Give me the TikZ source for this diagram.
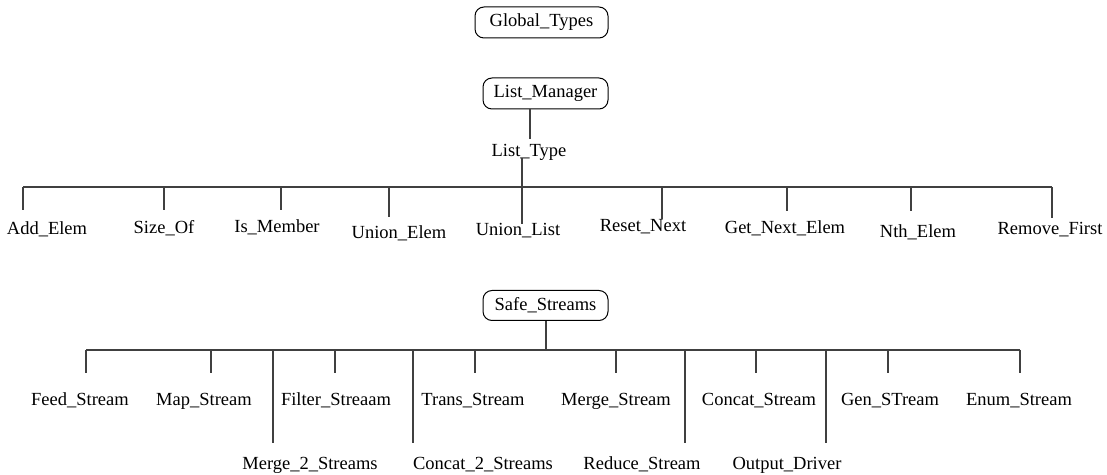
\documentclass[tikz,border=0pt]{standalone}
\usepackage{fontspec}
\setmainfont{Liberation Serif}
\begin{document}
\begin{tikzpicture}[x=0.5pt,y=-0.5pt,
  lbl/.style={inner sep=0pt, anchor=base, font=\fontsize{9.25}{11}\selectfont},
  modbox/.style={draw, line width=0.5pt, rounded corners=4.5pt, inner sep=0pt, minimum height=15.5pt, font=\fontsize{9.25}{11}\selectfont},
  conn/.style={line width=0.55pt, draw=black!75}]
\useasboundingbox (0,0) rectangle (1107,475);

% top modules
\node[modbox, minimum width=66.5pt] (gt) at (541.5,22.5) {Global\_Types};
\node[modbox, minimum width=62.5pt] (lm) at (545.5,93.5) {List\_Manager};
\node[lbl] (lt) at (529,157) {List\_Type};

% List_Manager children
\node[lbl] (ae) at (47,235) {Add\_Elem};
\node[lbl] (so) at (164,234) {Size\_Of};
\node[lbl] (im) at (277,233) {Is\_Member};
\node[lbl] (ue) at (399,239) {Union\_Elem};
\node[lbl] (ul) at (518,236) {Union\_List};
\node[lbl] (rn) at (643,232) {Reset\_Next};
\node[lbl] (gn) at (785,234) {Get\_Next\_Elem};
\node[lbl] (ne) at (918,238) {Nth\_Elem};
\node[lbl] (rf) at (1050,235) {Remove\_First};

\coordinate (lmlow) at (530,139);
\draw[conn] (lm.south -| lmlow) -- (lmlow);
\coordinate (ltlow) at (522,158);
\coordinate (barL) at (23,187);
\coordinate (barR) at (1052,187);
\draw[conn] (barL) -- (barR);
\coordinate (ulb) at (522,224);
\draw[conn] (ltlow) -- (ulb);
\coordinate (aeb) at (23,210);   \draw[conn] (barL) -- (aeb);
\coordinate (sob) at (164,210);  \draw[conn] (sob |- barL) -- (sob);
\coordinate (imb) at (281,210);  \draw[conn] (imb |- barL) -- (imb);
\coordinate (ueb) at (389,217);  \draw[conn] (ueb |- barL) -- (ueb);
\coordinate (rnb) at (662,219);  \draw[conn] (rnb |- barL) -- (rnb);
\coordinate (gnb) at (787,211);  \draw[conn] (gnb |- barL) -- (gnb);
\coordinate (neb) at (911,211);  \draw[conn] (neb |- barL) -- (neb);
\coordinate (rfb) at (1052,218); \draw[conn] (barR) -- (rfb);

% Safe_Streams
\node[modbox, minimum width=62.5pt, minimum height=15pt] (ss) at (545.5,305.5) {Safe\_Streams};
\coordinate (sbarL) at (86,350);
\coordinate (sbarR) at (1020,350);
\draw[conn] (ss.south -| 546,0) -- (546,350);
\draw[conn] (sbarL) -- (sbarR);

\node[lbl] (fs) at (80,405) {Feed\_Stream};
\node[lbl] (ms) at (204,405) {Map\_Stream};
\node[lbl] (fl) at (336,405) {Filter\_Streaam};
\node[lbl] (ts) at (473,405) {Trans\_Stream};
\node[lbl] (mg) at (616,405) {Merge\_Stream};
\node[lbl] (cs) at (759,405) {Concat\_Stream};
\node[lbl] (gs) at (890,405) {Gen\_STream};
\node[lbl] (es) at (1019,405) {Enum\_Stream};
\node[lbl] (m2) at (310,469) {Merge\_2\_Streams};
\node[lbl] (c2) at (483,469) {Concat\_2\_Streams};
\node[lbl] (rs) at (642,469) {Reduce\_Stream};
\node[lbl] (od) at (787,469) {Output\_Driver};

\coordinate (fsb) at (86,373);   \draw[conn] (sbarL) -- (fsb);
\coordinate (msb) at (211,373);  \draw[conn] (msb |- sbarL) -- (msb);
\coordinate (m2b) at (273,443);  \draw[conn] (m2b |- sbarL) -- (m2b);
\coordinate (flb) at (335,373);  \draw[conn] (flb |- sbarL) -- (flb);
\coordinate (c2b) at (413,443);  \draw[conn] (c2b |- sbarL) -- (c2b);
\coordinate (tsb) at (475,373);  \draw[conn] (tsb |- sbarL) -- (tsb);
\coordinate (mgb) at (616,373);  \draw[conn] (mgb |- sbarL) -- (mgb);
\coordinate (rsb) at (685,443);  \draw[conn] (rsb |- sbarL) -- (rsb);
\coordinate (csb) at (756,373);  \draw[conn] (csb |- sbarL) -- (csb);
\coordinate (odb) at (826,443);  \draw[conn] (odb |- sbarL) -- (odb);
\coordinate (gsb) at (888,373);  \draw[conn] (gsb |- sbarL) -- (gsb);
\coordinate (esb) at (1020,373); \draw[conn] (sbarR) -- (esb);
\end{tikzpicture}
\end{document}
